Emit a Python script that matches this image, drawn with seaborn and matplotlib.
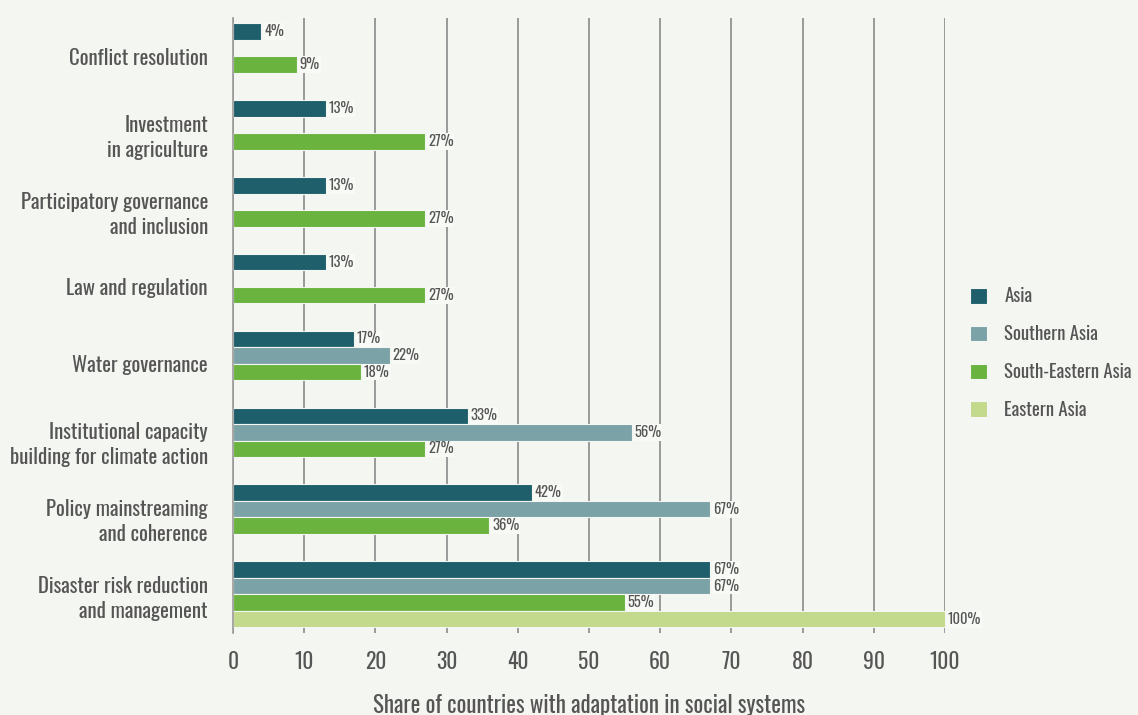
import matplotlib
matplotlib.use("Agg")
import matplotlib.pyplot as plt
import seaborn as sns
import pandas as pd
import numpy as np
from matplotlib import font_manager

categories = [
    "Conflict resolution",
    "Investment\nin agriculture",
    "Participatory governance\nand inclusion",
    "Law and regulation",
    "Water governance",
    "Institutional capacity\nbuilding for climate action",
    "Policy mainstreaming\nand coherence",
    "Disaster risk reduction\nand management",
]
regions = ["Asia", "Southern Asia", "South-Eastern Asia", "Eastern Asia"]
asia = [4, 13, 13, 13, 17, 33, 42, 67]
southern_asia = [None, None, None, None, 22, 56, 67, 67]
south_eastern_asia = [9, 27, 27, 27, 18, 27, 36, 55]
eastern_asia = [None, None, None, None, None, None, None, 100]
xticks = [0, 10, 20, 30, 40, 50, 60, 70, 80, 90, 100]
xlabel = "Share of countries with adaptation in social systems"

colors = ["#1f5f6c", "#7aa2a7", "#6ab33f", "#c3d98b"]
bg = "#f4f6f1"
tc = "#555555"

rows = []
for reg, vals in zip(regions, [asia, southern_asia, south_eastern_asia, eastern_asia]):
    for c, v in zip(categories, vals):
        if v is not None:
            rows.append({"category": c, "region": reg, "value": v})
df = pd.DataFrame(rows)

sns.set_theme(style="white")
avail = {f.name for f in font_manager.fontManager.ttflist}
fam = [f for f in ["Oswald", "Roboto Condensed", "Archivo Narrow", "Asap Condensed",
                   "DejaVu Sans"] if f in avail]
plt.rcParams["font.family"] = fam

fig = plt.figure(figsize=(11.38, 7.15), dpi=100, facecolor=bg)
ax = fig.add_axes([0.2047, 0.115, 0.6257, 0.86])
ax.set_facecolor(bg)

sns.barplot(data=df, y="category", x="value", hue="region", order=categories,
            hue_order=regions, palette=colors, orient="h", width=0.86,
            dodge=True, ax=ax, edgecolor=bg, linewidth=0.8, saturation=1)

for cont in ax.containers:
    ax.bar_label(cont, fmt="{:.0f}%", padding=2, fontsize=10.5, color=tc,
                 fontweight="light",
                 bbox=dict(facecolor="#f8faf6", edgecolor="none", pad=0.6))

ax.set_xlim(0, 100)
ax.set_ylim(7.5, -0.5)
ax.set_xticks(xticks)
ax.set_xticklabels([str(t) for t in xticks], fontsize=15.5, color=tc)
ax.tick_params(axis="x", length=6, width=1.2, color="#999999", direction="in", pad=13)
ax.grid(axis="x", color="#999999", linewidth=1.4)
ax.set_axisbelow(True)

ax.set_yticks(range(len(categories)))
ax.set_yticklabels(categories, fontsize=15, color=tc, linespacing=1.3)
ax.tick_params(axis="y", which="major", length=0, pad=18)
ax.set_yticks(np.arange(-0.5, len(categories)), minor=True)
ax.tick_params(axis="y", which="minor", length=8, width=1.2, color="#999999")

for s in ["top", "right", "bottom"]:
    ax.spines[s].set_visible(False)
ax.spines["left"].set_color("#999999")
ax.spines["left"].set_linewidth(1.2)

ax.set_xlabel(xlabel, fontsize=16.5, color=tc, labelpad=15)
ax.set_ylabel("")

leg = ax.legend(loc="center left", bbox_to_anchor=(1.012, 0.455), frameon=False,
                fontsize=13.5, labelcolor=tc, handlelength=0.9, handleheight=0.9,
                labelspacing=1.05, handletextpad=0.9)

fig.savefig("out.png", dpi=100, facecolor=bg)
